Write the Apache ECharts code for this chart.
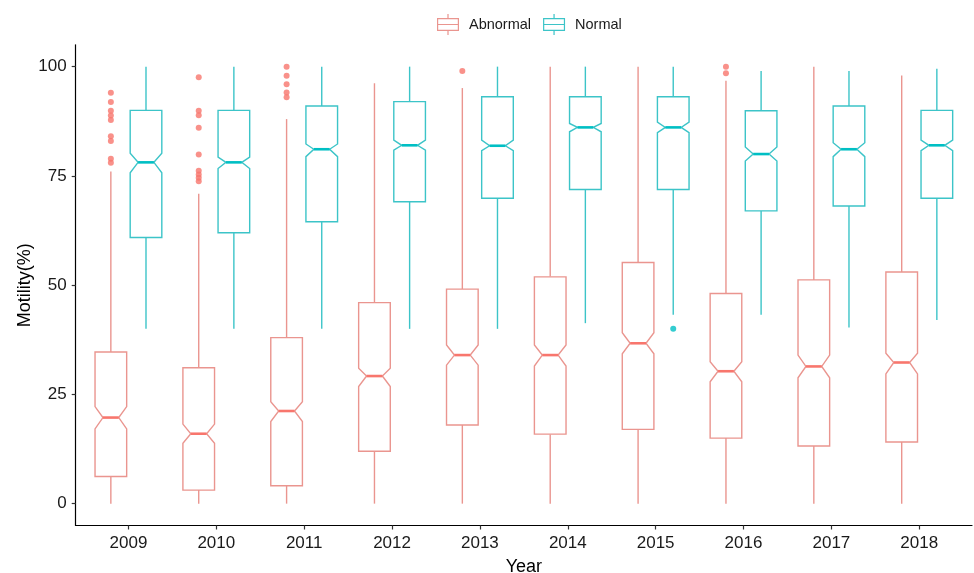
<!DOCTYPE html>
<html>
<head>
<meta charset="utf-8">
<script src="https://cdn.jsdelivr.net/npm/echarts@6/dist/echarts.min.js"></script>
<style>
  html, body { margin: 0; padding: 0; background: #fff; }
  #chart { width: 974px; height: 573px; }
</style>
</head>
<body>
<div id="chart"></div>
<script>
// Sperm motility by year, notched boxplots per group
const years = ['2009', '2010', '2011', '2012', '2013', '2014', '2015', '2016', '2017', '2018'];
const yTicks = [0, 25, 50, 75, 100];

// Box statistics per year: [whiskerLow, q1, notchLow, median, notchHigh, q3, whiskerHigh]
const abnormalStats = [
  [0, 6.2, 17.1, 19.7, 22.2, 34.7, 76.0],
  [0, 3.1, 13.8, 16.0, 18.2, 31.1, 70.9],
  [0, 4.1, 18.8, 21.2, 23.3, 38.0, 88.0],
  [0, 12.0, 26.8, 29.2, 31.0, 46.0, 96.2],
  [0, 18.0, 31.7, 34.0, 36.3, 49.1, 95.1],
  [0, 15.9, 31.5, 34.0, 36.3, 51.9, 100],
  [0, 17.0, 34.3, 36.7, 39.1, 55.2, 100],
  [0, 15.0, 27.9, 30.3, 32.5, 48.1, 96.8],
  [0, 13.2, 28.8, 31.4, 34.0, 51.2, 100],
  [0, 14.1, 29.7, 32.3, 34.4, 53.0, 98]
];
const normalStats = [
  [40, 60.9, 75.7, 78.1, 80.2, 90.0, 100],
  [40, 62.0, 76.7, 78.1, 79.3, 90.0, 100],
  [40, 64.5, 79.4, 81.1, 82.3, 91.0, 100],
  [40, 69.1, 80.9, 82.0, 83.2, 92.0, 100],
  [40, 69.9, 80.8, 81.9, 83.2, 93.1, 100],
  [41.3, 71.9, 85.1, 86.1, 87.0, 93.1, 100],
  [43.2, 71.9, 84.9, 86.1, 87.3, 93.1, 100],
  [43.2, 67.0, 78.4, 80.0, 81.6, 89.9, 99],
  [40.3, 68.1, 79.4, 81.1, 82.6, 91.0, 99],
  [42.0, 69.9, 80.8, 82.0, 83.2, 90.0, 99.5]
];

// Outliers per year (empty where none)
const abnormalOutliers = [
  [94.0, 91.9, 89.9, 88.8, 87.8, 84.1, 83.0, 78.9, 78.0],
  [97.6, 89.9, 88.9, 86.0, 79.9, 76.2, 75.3, 74.6, 73.8],
  [100, 97.9, 96.0, 94.1, 93.0],
  [],
  [99],
  [],
  [],
  [100, 98.5],
  [],
  []
];
const normalOutliers = [[], [], [], [], [], [], [40], [], [], []];

const groups = [
  { name: 'Abnormal', color: '#F8766D', line: '#EA958F', stats: abnormalStats, outliers: abnormalOutliers, dodge: -0.2 },
  { name: 'Normal', color: '#00BFC4', line: '#3CC4C8', stats: normalStats, outliers: normalOutliers, dodge: 0.2 }
];

const BOX_WIDTH = 0.36;   // in category units
const NOTCH_WIDTH = 0.5;  // fraction of box width at the median

function makeRenderer(g) {
  return function (params, api) {
    const x = api.value(0) + g.dodge;
    const yv = (i) => api.coord([x, api.value(i)])[1];
    const cx = api.coord([x, 0])[0];
    const half = api.size([BOX_WIDTH, 0])[0] / 2;
    const inset = half * (1 - NOTCH_WIDTH);
    const wLo = yv(1), q1 = yv(2), nLo = yv(3), med = yv(4), nHi = yv(5), q3 = yv(6), wHi = yv(7);
    const L = cx - half, R = cx + half;
    const stroke = { stroke: g.line, lineWidth: 1.4, fill: null };
    return {
      type: 'group',
      children: [
        { type: 'line', shape: { x1: cx, y1: q3, x2: cx, y2: wHi }, style: stroke },
        { type: 'line', shape: { x1: cx, y1: q1, x2: cx, y2: wLo }, style: stroke },
        {
          type: 'polygon',
          shape: {
            points: [
              [L, q3], [R, q3], [R, nHi], [R - inset, med], [R, nLo], [R, q1],
              [L, q1], [L, nLo], [L + inset, med], [L, nHi]
            ]
          },
          style: { stroke: g.line, lineWidth: 1.4, fill: '#ffffff' }
        },
        { type: 'line', shape: { x1: L + inset, y1: med, x2: R - inset, y2: med }, style: { stroke: g.color, lineWidth: 2.6 } }
      ]
    };
  };
}

// legend glyph: a small box with whisker stubs, drawn as filled strokes
const boxIcon = 'path://M0 40h220v12H0ZM0 158h220v12H0ZM0 40h12v130H0ZM208 40h12v130H208ZM0 99h220v12H0ZM104 0h12v40h-12ZM104 170h12v40h-12Z';

const series = [];
groups.forEach(g => {
  series.push({
    name: g.name,
    type: 'custom',
    renderItem: makeRenderer(g),
    itemStyle: { color: g.line },
    encode: { x: 0, y: [1, 2, 3, 4, 5, 6, 7] },
    data: g.stats.map((s, i) => [i + 1].concat(s)),
    z: 2
  });
});
groups.forEach(g => {
  const pts = [];
  g.outliers.forEach((vals, i) => vals.forEach(v => pts.push([i + 1 + g.dodge, v])));
  series.push({
    name: g.name + ' outliers',
    type: 'scatter',
    symbol: 'circle',
    symbolSize: 6,
    itemStyle: { color: g.color },
    data: pts,
    z: 3
  });
});

const chart = echarts.init(document.getElementById('chart'), null, { renderer: 'canvas' });
chart.setOption({
  animation: false,
  backgroundColor: '#ffffff',
  legend: {
    data: [
      { name: 'Abnormal', icon: boxIcon, itemStyle: { color: '#EA958F' } },
      { name: 'Normal', icon: boxIcon, itemStyle: { color: '#3CC4C8' } }
    ],
    left: 432,
    top: 9,
    itemWidth: 22,
    itemHeight: 21,
    itemGap: 12,
    textStyle: { fontFamily: 'Liberation Sans, Arial, sans-serif', fontSize: 14.5, color: '#1a1a1a', padding: [0, 0, 0, 5] }
  },
  grid: { left: 75.7, right: 2, top: 44.8, bottom: 47.5, containLabel: false, outerBoundsMode: 'none' },
  xAxis: {
    type: 'value',
    min: 0.4,
    max: 10.6,
    name: 'Year',
    nameLocation: 'middle',
    nameGap: 33,
    nameMoveOverlap: false,
    nameTextStyle: { fontFamily: 'Liberation Sans, Arial, sans-serif', fontSize: 18, color: '#000' },
    axisLine: { show: true, onZero: false, lineStyle: { color: '#000', width: 1.2 } },
    axisTick: { show: true, customValues: years.map((y, i) => i + 1), length: 4, lineStyle: { color: '#333', width: 1.2 } },
    axisLabel: {
      customValues: years.map((y, i) => i + 1),
      formatter: (v) => years[Math.round(v) - 1],
      margin: 9,
      fontFamily: 'Liberation Sans, Arial, sans-serif',
      fontSize: 17,
      color: '#1a1a1a'
    },
    splitLine: { show: false }
  },
  yAxis: {
    type: 'value',
    min: -5,
    max: 105,
    name: 'Motility(%)',
    nameLocation: 'middle',
    nameGap: 42,
    nameMoveOverlap: false,
    nameRotate: 90,
    nameTextStyle: { fontFamily: 'Liberation Sans, Arial, sans-serif', fontSize: 18, color: '#000' },
    axisLine: { show: true, onZero: false, lineStyle: { color: '#000', width: 1.2 } },
    axisTick: { show: true, customValues: yTicks, length: 4, lineStyle: { color: '#333', width: 1.2 } },
    axisLabel: {
      customValues: yTicks,
      margin: 9,
      fontFamily: 'Liberation Sans, Arial, sans-serif',
      fontSize: 17,
      color: '#1a1a1a'
    },
    splitLine: { show: false }
  },
  series: series
});
</script>
</body>
</html>
